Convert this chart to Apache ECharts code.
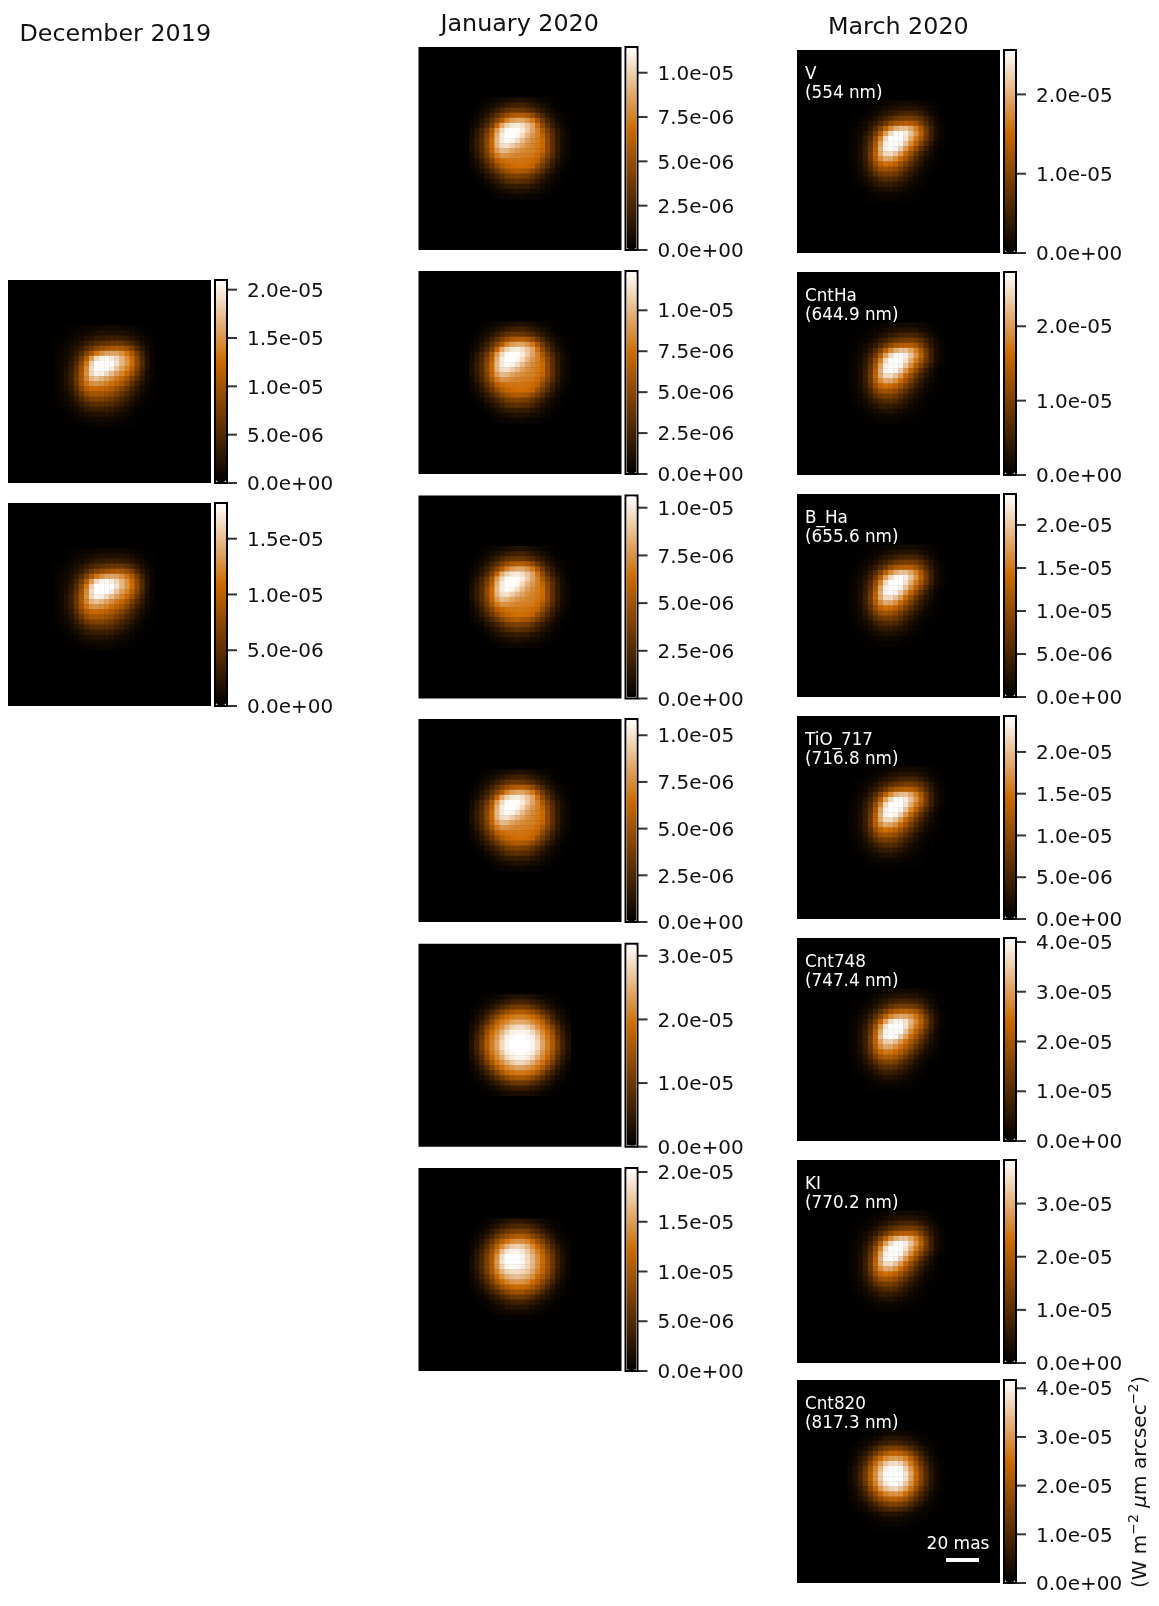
<!DOCTYPE html>
<html><head><meta charset="utf-8">
<style>html,body{margin:0;padding:0;background:#fff}#c{width:1159px;height:1606px}</style>
<script src="https://cdn.jsdelivr.net/npm/echarts@6/dist/echarts.min.js"></script>
</head><body><div id="c"></div>
<script>
// Brightness, percent of each panel's colour-bar top, 20x20 cells around the star
const decBlob=[
[0,0,1,1,2,2,3,3,4,5,5,5,5,4,4,3,2,1,1,0],
[0,1,1,2,3,4,5,6,8,9,9,9,9,9,8,6,4,3,1,1],
[1,1,2,3,5,6,9,11,14,15,17,17,17,16,14,11,8,5,2,1],
[1,2,3,5,7,11,15,20,24,27,29,31,31,30,26,21,14,8,4,2],
[1,2,4,7,11,16,24,32,39,44,48,50,51,49,44,35,23,13,6,2],
[2,3,5,9,15,24,37,50,62,70,75,76,75,70,62,50,34,19,8,3],
[2,3,6,11,20,33,52,73,90,97,98,95,89,80,71,58,40,23,10,3],
[2,4,7,13,24,41,63,87,100,100,100,100,92,81,72,60,41,24,10,3],
[2,4,8,15,27,46,68,91,100,100,100,95,84,74,66,54,37,21,9,3],
[2,5,9,17,30,49,70,89,97,96,90,82,74,67,59,46,31,17,7,3],
[2,5,9,17,31,49,67,80,84,80,75,70,64,58,49,36,24,14,6,2],
[2,4,9,16,29,46,61,70,71,69,66,61,56,49,39,28,18,10,5,2],
[2,4,8,14,25,40,52,58,59,58,55,51,45,37,29,20,13,7,3,1],
[1,3,6,11,20,31,42,48,49,48,45,42,36,29,22,15,9,5,2,1],
[1,3,5,8,14,23,31,36,37,37,35,32,27,21,16,10,6,3,1,1],
[1,2,3,6,10,15,21,25,26,26,25,23,19,15,11,7,4,2,1,0],
[0,1,2,4,6,10,14,16,17,17,17,15,12,9,7,4,2,1,1,0],
[0,1,1,2,3,6,8,9,10,10,10,9,7,5,4,2,1,1,0,0],
[0,0,1,1,2,3,4,5,5,6,5,5,4,3,2,1,1,0,0,0],
[0,0,0,0,1,1,2,2,3,3,3,2,2,1,1,1,0,0,0,0]];
const janBlobA=[
[0,0,1,2,3,4,6,7,8,9,9,8,6,5,3,2,1,0,0,0],
[0,1,2,4,6,9,12,15,18,19,19,17,13,10,7,5,2,1,0,0],
[1,2,4,7,11,16,22,27,30,31,30,27,24,18,13,8,5,2,1,0],
[1,3,6,11,19,27,36,44,50,53,53,49,42,31,22,13,8,4,2,1],
[2,5,10,17,27,39,53,66,73,76,76,71,63,49,33,21,12,6,3,1],
[3,7,14,23,36,57,77,88,93,95,91,84,76,62,42,27,16,9,4,2],
[5,11,20,32,50,73,90,98,100,99,95,86,76,66,50,34,22,13,6,2],
[6,13,23,37,54,79,95,100,100,98,90,80,72,66,56,40,26,14,7,3],
[7,15,25,41,60,82,95,99,97,91,82,74,69,65,60,42,27,15,7,3],
[7,15,25,41,60,80,91,92,87,81,75,70,67,64,60,42,27,15,7,3],
[7,14,24,38,57,73,82,80,75,72,69,67,65,63,57,42,27,15,7,3],
[5,12,21,34,50,64,71,70,68,67,66,65,64,60,50,37,24,13,6,3],
[4,8,16,27,38,53,59,62,63,63,63,62,60,56,42,29,18,10,4,2],
[3,6,13,21,31,42,51,57,60,61,61,60,56,44,34,24,14,7,3,1],
[2,4,8,14,22,30,39,46,50,52,50,48,42,34,25,16,10,5,2,1],
[1,2,4,9,13,20,26,33,35,37,35,33,28,21,15,10,5,3,1,0],
[0,1,2,5,9,13,18,23,26,27,26,24,20,15,10,7,4,2,1,0],
[0,0,1,3,5,8,11,14,15,16,15,14,11,9,6,3,2,1,0,0],
[0,0,0,1,3,4,6,7,8,9,8,8,6,5,3,2,1,0,0,0],
[0,0,0,0,1,2,3,3,4,4,4,3,3,2,1,1,0,0,0,0]];
const janBlobE=[
[0,0,1,2,2,4,6,8,9,10,10,9,8,6,4,2,2,1,0,0],
[0,1,2,4,6,9,12,15,19,20,20,19,15,12,9,6,4,2,1,0],
[1,2,4,7,11,16,22,28,33,35,35,33,28,22,16,11,7,4,2,1],
[2,4,7,13,20,28,37,44,49,53,53,49,44,37,28,20,13,7,4,2],
[2,6,11,19,30,42,53,60,64,66,66,64,60,53,42,30,19,11,6,2],
[4,8,16,26,40,55,64,69,75,77,77,75,69,64,55,40,26,16,8,4],
[6,12,23,37,51,63,71,80,88,91,91,88,80,71,63,51,37,23,12,6],
[7,15,26,44,60,69,80,90,96,97,97,96,90,80,69,60,44,26,15,7],
[8,18,31,49,63,73,86,96,98,100,100,98,96,86,73,63,49,31,18,8],
[9,19,33,51,65,76,90,97,100,100,100,100,97,90,76,65,51,33,19,9],
[9,19,33,51,65,76,90,97,100,100,100,100,97,90,76,65,51,33,19,9],
[8,18,30,47,63,72,85,95,98,100,100,98,95,85,72,63,47,30,18,8],
[7,14,25,42,58,68,78,89,95,97,97,95,89,78,68,58,42,25,14,7],
[5,11,21,35,49,62,70,78,85,89,89,85,78,70,62,49,35,21,11,5],
[3,8,15,25,38,51,62,68,72,75,75,72,68,62,51,38,25,15,8,3],
[2,5,10,18,26,38,49,58,62,64,64,62,58,49,38,26,18,10,5,2],
[1,3,6,11,18,25,33,40,46,49,49,46,40,33,25,18,11,6,3,1],
[1,2,3,6,10,14,20,25,30,31,31,30,25,20,14,10,6,3,2,1],
[0,1,2,3,5,8,11,13,16,18,18,16,13,11,8,5,3,2,1,0],
[0,0,1,1,2,3,5,7,8,8,8,8,7,5,3,2,1,1,0,0]];
const janBlobF=[
[0,0,1,2,3,6,8,10,12,13,13,11,9,7,5,3,2,1,0,0],
[0,1,2,4,7,11,15,19,22,23,23,21,18,13,9,6,3,2,1,0],
[1,2,4,8,13,20,26,31,35,36,36,34,28,23,16,11,6,3,1,0],
[1,4,7,13,21,30,38,44,49,52,52,48,41,34,26,18,11,5,3,1],
[2,5,11,20,30,42,54,62,68,70,69,66,58,46,36,25,15,8,4,2],
[3,7,15,26,38,54,68,79,86,88,85,79,69,58,46,33,21,12,6,3],
[4,10,19,31,46,63,82,93,97,97,93,86,76,65,54,39,26,15,7,3],
[5,12,22,36,50,70,91,100,100,100,97,90,80,70,58,44,29,17,9,4],
[6,13,23,37,53,73,93,100,100,100,98,91,81,71,60,46,31,18,9,4],
[6,13,23,37,52,71,88,97,99,98,95,89,80,70,58,46,31,18,9,4],
[5,11,21,34,50,66,80,88,91,91,89,85,76,66,56,43,28,16,8,4],
[4,9,18,28,42,58,70,78,82,83,81,77,70,60,50,37,24,13,6,3],
[3,6,13,23,34,48,60,67,71,72,71,67,60,52,41,30,19,10,5,2],
[2,5,9,16,26,35,46,52,57,60,58,56,50,41,32,22,13,7,3,1],
[1,3,6,11,18,24,32,39,44,46,46,41,37,30,22,14,8,4,2,1],
[1,2,3,6,10,15,21,26,30,31,31,28,24,18,13,9,5,3,1,0],
[0,1,2,3,6,9,12,15,18,19,19,16,13,10,7,4,3,1,1,0],
[0,0,1,2,3,5,7,9,11,11,11,10,8,6,4,3,1,1,0,0],
[0,0,0,1,1,3,4,4,5,5,5,5,4,3,2,1,1,0,0,0],
[0,0,0,0,0,1,1,2,2,2,2,2,1,1,1,0,0,0,0,0]];
const marBlobA=[
[0,0,0,1,1,2,2,3,4,5,6,6,6,5,4,3,2,1,0,0],
[0,0,1,1,2,3,4,6,8,9,11,11,11,10,8,6,3,2,1,0],
[0,1,1,2,3,5,8,11,14,17,20,21,21,19,15,10,6,3,1,0],
[0,1,2,3,5,9,14,19,25,30,33,35,35,32,26,18,10,5,2,1],
[1,1,3,5,9,15,23,32,42,49,52,54,53,47,36,24,13,6,3,1],
[1,2,4,7,14,24,38,54,68,78,83,83,76,65,50,32,17,8,3,1],
[1,3,5,10,19,33,53,74,90,98,99,95,84,71,54,34,18,8,3,1],
[1,3,6,13,24,43,66,90,100,100,100,92,78,64,48,31,17,7,3,1],
[2,3,7,15,28,49,75,96,100,100,97,84,69,54,38,23,12,5,2,1],
[2,4,8,16,31,54,79,97,100,97,87,72,57,42,27,16,8,3,1,0],
[2,4,8,17,33,55,77,90,91,84,73,59,45,31,19,11,6,2,1,0],
[2,4,8,16,32,52,69,77,76,70,60,47,35,23,14,8,4,2,1,0],
[2,3,7,15,27,44,56,61,60,55,46,36,26,17,10,5,2,1,0,0],
[1,3,6,12,22,34,44,47,46,42,34,26,18,11,6,3,2,1,0,0],
[1,2,5,9,16,25,32,34,34,31,25,18,12,8,4,2,1,0,0,0],
[1,2,3,6,11,16,21,24,24,22,17,12,8,5,3,1,1,0,0,0],
[0,1,2,4,7,10,14,15,15,13,11,8,5,3,2,1,0,0,0,0],
[0,1,1,2,4,6,8,9,9,8,6,5,3,2,1,0,0,0,0,0],
[0,0,1,1,2,3,4,4,4,4,3,2,2,1,1,0,0,0,0,0],
[0,0,0,1,1,1,2,2,2,2,1,1,1,1,0,0,0,0,0,0]];
const marBlobE=[
[0,0,0,1,1,1,2,3,4,5,6,6,5,5,4,3,1,1,0,0],
[0,0,1,1,2,3,5,7,9,10,11,12,11,10,7,5,3,1,1,0],
[0,1,1,2,4,6,9,13,17,19,21,21,20,18,14,9,5,2,1,0],
[0,1,2,4,6,10,16,22,29,33,35,35,34,31,24,16,8,4,1,1],
[1,1,3,5,10,17,26,36,46,52,55,56,53,48,37,24,13,6,2,1],
[1,2,4,8,15,26,40,55,67,74,77,76,71,62,49,32,17,8,3,1],
[1,3,6,11,21,36,56,76,91,97,97,92,80,68,54,36,19,9,3,1],
[2,3,7,14,27,46,70,92,100,100,100,92,77,63,50,33,17,8,3,1],
[2,4,8,17,31,53,78,97,100,100,98,84,69,55,41,26,14,6,2,1],
[2,4,9,18,34,57,82,97,100,98,87,74,60,47,33,20,10,5,2,1],
[2,4,9,18,34,56,75,87,88,82,72,62,50,38,25,15,8,4,1,0],
[2,4,8,17,32,52,69,77,76,70,62,53,41,29,19,11,5,3,1,0],
[2,4,8,15,28,45,59,64,63,59,52,42,31,21,13,7,4,2,1,0],
[1,3,6,12,22,35,46,51,51,47,40,31,22,14,8,5,2,1,0,0],
[1,2,4,9,16,25,33,37,38,35,28,21,15,9,5,3,1,1,0,0],
[1,2,3,6,11,16,23,26,26,24,19,14,9,6,3,2,1,0,0,0],
[0,1,2,4,6,10,14,17,17,15,12,9,6,3,2,1,0,0,0,0],
[0,1,1,2,4,6,8,10,10,9,7,5,3,2,1,0,0,0,0,0],
[0,0,1,1,2,3,4,5,5,5,4,3,2,1,1,0,0,0,0,0],
[0,0,0,1,1,1,2,2,2,2,2,1,1,1,0,0,0,0,0,0]];
const marBlobG=[
[0,0,0,1,1,2,3,4,5,5,5,4,3,2,1,1,0,0,0,0],
[0,0,1,2,3,5,7,10,11,11,10,9,7,4,3,2,1,0,0,0],
[0,1,2,4,6,11,15,17,20,20,19,16,13,9,5,3,2,1,0,0],
[1,2,4,7,13,20,27,33,37,38,36,30,24,17,11,6,3,1,0,0],
[1,3,7,13,22,32,43,51,56,57,55,49,39,28,18,10,5,2,0,0],
[2,5,11,19,31,46,59,68,73,74,72,66,54,39,25,14,7,3,1,0],
[3,7,14,24,40,58,72,84,91,92,88,78,64,47,30,18,9,4,2,0],
[4,9,17,30,48,66,81,95,100,100,98,87,72,55,37,22,11,5,2,0],
[4,9,19,33,52,70,87,99,100,100,100,93,77,59,40,24,12,5,2,1],
[4,9,19,33,52,70,86,99,100,100,100,92,75,58,40,24,12,5,2,1],
[4,8,17,30,48,66,82,94,99,100,96,85,71,54,37,22,11,5,2,1],
[3,6,14,24,40,57,72,82,88,90,84,75,62,45,29,17,9,4,2,0],
[2,5,11,19,31,44,57,66,71,72,69,60,47,34,22,13,6,3,1,0],
[2,4,8,14,23,33,43,50,54,55,52,45,35,25,16,9,5,2,1,0],
[1,3,5,8,14,21,28,33,37,37,34,30,23,16,10,5,3,1,0,0],
[1,2,3,5,9,13,17,20,23,23,21,17,13,8,5,3,2,1,0,0],
[0,0,1,2,4,6,8,10,10,10,9,8,6,4,3,2,1,0,0,0],
[0,0,0,1,2,3,4,5,6,6,5,4,3,2,1,1,0,0,0,0],
[0,0,0,0,1,1,2,2,3,3,2,2,1,1,1,0,0,0,0,0],
[0,0,0,0,0,1,1,1,1,1,1,1,1,0,0,0,0,0,0,0]];

const columnTitles=['December 2019','January 2020','March 2020'];
const filterNames=['V\n(554 nm)','CntHa\n(644.9 nm)','B_Ha\n(655.6 nm)','TiO_717\n(716.8 nm)','Cnt748\n(747.4 nm)','KI\n(770.2 nm)','Cnt820\n(817.3 nm)'];

const decMax=[2.1e-5,1.82e-5];
const janMax=[1.145e-5,1.24e-5,1.064e-5,1.087e-5,3.19e-5,2.04e-5];
const marMax=[2.56e-5,2.73e-5,2.36e-5,2.43e-5,4.08e-5,3.82e-5,4.17e-5];

const decTicks=[[0,5e-6,1e-5,1.5e-5,2e-5],[0,5e-6,1e-5,1.5e-5]];
const janTicks=[[0,2.5e-6,5e-6,7.5e-6,1e-5],[0,2.5e-6,5e-6,7.5e-6,1e-5],[0,2.5e-6,5e-6,7.5e-6,1e-5],[0,2.5e-6,5e-6,7.5e-6,1e-5],[0,1e-5,2e-5,3e-5],[0,5e-6,1e-5,1.5e-5,2e-5]];
const marTicks=[[0,1e-5,2e-5],[0,1e-5,2e-5],[0,5e-6,1e-5,1.5e-5,2e-5],[0,5e-6,1e-5,1.5e-5,2e-5],[0,1e-5,2e-5,3e-5,4e-5],[0,1e-5,2e-5,3e-5],[0,1e-5,2e-5,3e-5,4e-5]];

const decBlobs=[decBlob,decBlob];
const janBlobs=[janBlobA,janBlobA,janBlobA,janBlobA,janBlobE,janBlobF];
const marBlobs=[marBlobA,marBlobA,marBlobA,marBlobA,marBlobE,marBlobA,marBlobG];

// layout
const FONT='"DejaVu Sans"', SIZE=203, CELLS=40;
const cols=[
 {left:8,  tops:[280,503], offs:9,  blobs:decBlobs, max:decMax, ticks:decTicks},
 {left:418.5, tops:[47,271,495.5,719,943.7,1168], offs:10, blobs:janBlobs, max:janMax, ticks:janTicks},
 {left:797, tops:[50,272,494,716,938,1160,1380], offs:10, blobs:marBlobs, max:marMax, ticks:marTicks}
];
const cellCats=Array.from({length:CELLS},(_,i)=>i);
const fmt=v=>{ if(v===0) return '0.0e+00'; const s=v.toExponential(1).split('e'); const e=Math.abs(+s[1]); return s[0]+'e-'+(e<10?'0':'')+e; };

const grid=[],xAxis=[],yAxis=[],series=[],visualMap=[],graphic=[];
cols.forEach((c,ci)=>{
  c.tops.forEach((top,pi)=>{
    const max=c.max[pi], blob=c.blobs[pi], g=grid.length;
    const data=[];
    blob.forEach((row,j)=>row.forEach((p,i)=>{ if(p>0) data.push([i+c.offs,j+c.offs,p/100*max]); }));
    grid.push({left:c.left,top:top,width:SIZE,height:SIZE,show:true,backgroundColor:'#000',borderWidth:0,containLabel:false});
    xAxis.push({gridIndex:g,type:'category',data:cellCats,show:false});
    yAxis.push({gridIndex:g,type:'category',data:cellCats,inverse:true,show:false});
    series.push({type:'heatmap',xAxisIndex:g,yAxisIndex:g,data:data,silent:true,progressive:0,animation:false,itemStyle:{borderWidth:0},emphasis:{disabled:true}});
    visualMap.push({type:'continuous',seriesIndex:series.length-1,min:0,max:max,show:true,calculable:false,hoverLink:false,realtime:false,
      left:c.left+SIZE+5,top:top+1,itemWidth:10,itemHeight:SIZE-2,padding:0,text:null,showLabel:false,indicatorSize:0,handleSize:0,
      indicatorStyle:{opacity:0,borderWidth:0,shadowBlur:0},handleStyle:{opacity:0,borderWidth:0,shadowBlur:0},
      textStyle:{color:'rgba(0,0,0,0)',fontSize:1},
      inRange:{color:['#000000','#442300','#884600','#cc6a00','#e5b47f','#ffffff']}});
    const h=grid.length;
    grid.push({left:c.left+SIZE+4,top:top,width:12,height:SIZE,show:true,backgroundColor:'transparent',borderColor:'#000',borderWidth:2,containLabel:false});
    xAxis.push({gridIndex:h,type:'value',show:false,min:0,max:1});
    yAxis.push({gridIndex:h,type:'value',position:'right',min:0,max:max,
      splitLine:{show:false},
      axisLine:{show:false},
      axisTick:{show:false},
      axisLabel:{show:true,customValues:c.ticks[pi],formatter:fmt,margin:20,verticalAlign:'top',padding:[-8,0,0,0],color:'#111',fontFamily:FONT,fontSize:20,hideOverlap:false}});
    series.push({type:'scatter',xAxisIndex:h,yAxisIndex:h,silent:true,animation:false,clip:false,
      data:c.ticks[pi].map(t=>[1,t]),symbol:'rect',symbolSize:[10,2],symbolOffset:[5,0],itemStyle:{color:'#000'},z:5});
    if(ci===2){
      graphic.push({type:'text',x:c.left+8,y:top+15,silent:true,z:50,style:{text:filterNames[pi],fill:'#fff',font:'16.8px '+FONT,lineHeight:19}});
    }
  });
});
graphic.push({type:'text',x:958,y:1545,silent:true,z:50,style:{text:'20 mas',fill:'#fff',font:'17px '+FONT,textAlign:'center',textVerticalAlign:'middle'}});
graphic.push({type:'rect',silent:true,z:50,shape:{x:946,y:1558,width:33,height:4},style:{fill:'#fff'}});
graphic.push({type:'text',x:1141,y:1482,rotation:Math.PI/2,silent:true,z:50,style:{
  text:'{a|(W m}{s|−2}{a| }{i|μ}{a|m arcsec}{s|−2}{a|)}',align:'center',verticalAlign:'middle',fill:'#111',
  rich:{a:{font:'20px '+FONT,fill:'#111',lineHeight:28},i:{font:'italic 20px '+FONT,fill:'#111',lineHeight:28},s:{font:'14px '+FONT,fill:'#111',verticalAlign:'top',lineHeight:28}}}});

const title=[
 {text:columnTitles[0],left:19.5,top:23,padding:0,textStyle:{fontFamily:FONT,fontSize:23.8,fontWeight:'normal',color:'#111'}},
 {text:columnTitles[1],left:440.5,top:13,padding:0,textStyle:{fontFamily:FONT,fontSize:23.8,fontWeight:'normal',color:'#111'}},
 {text:columnTitles[2],left:828,top:16,padding:0,textStyle:{fontFamily:FONT,fontSize:23.8,fontWeight:'normal',color:'#111'}}
];
const chart=echarts.init(document.getElementById('c'),null,{renderer:'canvas',width:1159,height:1606});
chart.setOption({animation:false,backgroundColor:'#fff',tooltip:{show:false},title,grid,xAxis,yAxis,visualMap,series,graphic});
</script></body></html>
